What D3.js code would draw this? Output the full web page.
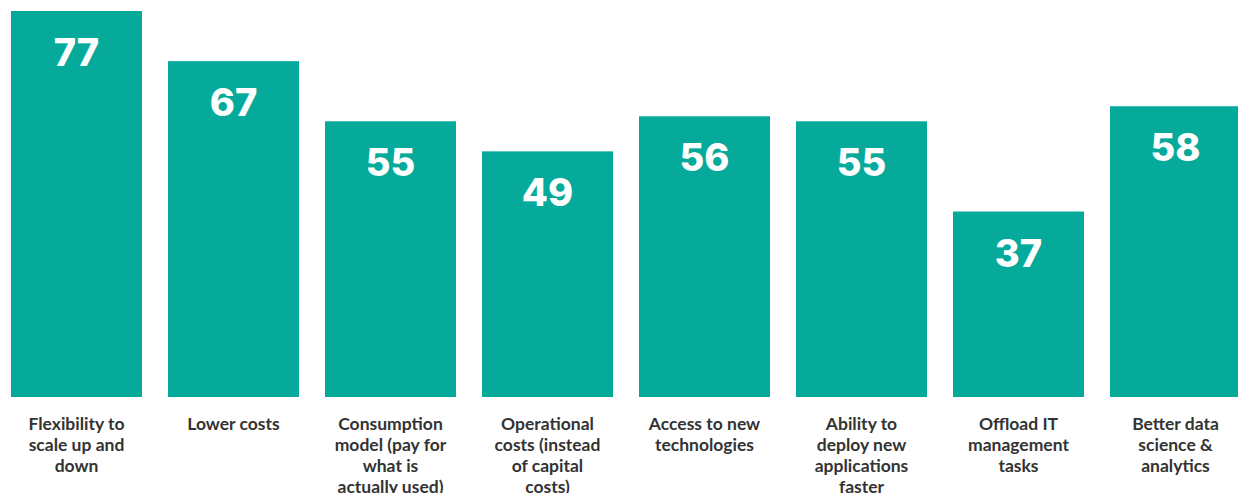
<!DOCTYPE html>
<html>
<head>
<meta charset="utf-8">
<script src="https://cdn.jsdelivr.net/npm/d3@7"></script>
<style>
  html, body { margin: 0; padding: 0; background: #ffffff; }
  svg { display: block; }
</style>
</head>
<body>
<svg id="chart" width="1238" height="493"></svg>
<script>
// Reasons for adopting cloud services (% of respondents)
const categories = [
  "Flexibility to scale up and down",
  "Lower costs",
  "Consumption model (pay for what is actually used)",
  "Operational costs (instead of capital costs)",
  "Access to new technologies",
  "Ability to deploy new applications faster",
  "Offload IT management tasks",
  "Better data science & analytics"
];
const values = [77, 67, 55, 49, 56, 55, 37, 58];
// Line breaks used for each category label
const labelLines = [
  ["Flexibility to", "scale up and", "down"],
  ["Lower costs"],
  ["Consumption", "model (pay for", "what is", "actually used)"],
  ["Operational", "costs (instead", "of capital", "costs)"],
  ["Access to new", "technologies"],
  ["Ability to", "deploy new", "applications", "faster"],
  ["Offload IT", "management", "tasks"],
  ["Better data", "science &", "analytics"]
];

const barColor = "#05aa9b";
const svg = d3.select("#chart");

const x = d3.scaleBand()
  .domain(categories)
  .range([11, 1241])
  .paddingInner(26 / 157)
  .paddingOuter(0);

const y = d3.scaleLinear()
  .domain([0, 77])
  .range([397, 11]);

const data = categories.map((c, i) => ({ cat: c, value: values[i], lines: labelLines[i] }));

// Bars
svg.append("g")
  .selectAll("rect")
  .data(data)
  .join("rect")
  .attr("x", d => x(d.cat))
  .attr("y", d => y(d.value))
  .attr("width", x.bandwidth())
  .attr("height", d => y(0) - y(d.value))
  .attr("fill", barColor);

// Value labels inside the top of each bar
svg.append("g")
  .selectAll("text")
  .data(data)
  .join("text")
  .attr("x", d => x(d.cat) + x.bandwidth() / 2)
  .attr("y", d => y(d.value) + 55)
  .attr("text-anchor", "middle")
  .attr("fill", "#ffffff")
  .attr("font-family", "Inter, 'Open Sans', sans-serif")
  .attr("font-weight", 800)
  .attr("font-size", 38)
  .text(d => d.value);

// Category labels under the bars
const labels = svg.append("g")
  .selectAll("text")
  .data(data)
  .join("text")
  .attr("x", d => x(d.cat) + x.bandwidth() / 2)
  .attr("y", 430)
  .attr("text-anchor", "middle")
  .attr("fill", "#333333")
  .attr("font-family", "Lato, 'Open Sans', sans-serif")
  .attr("font-weight", 700)
  .attr("font-size", 17.5);

labels.selectAll("tspan")
  .data(d => d.lines.map(l => ({ line: l, cx: x(d.cat) + x.bandwidth() / 2 })))
  .join("tspan")
  .attr("x", d => d.cx)
  .attr("dy", (d, i) => i === 0 ? 0 : 21)
  .text(d => d.line);
</script>
</body>
</html>
